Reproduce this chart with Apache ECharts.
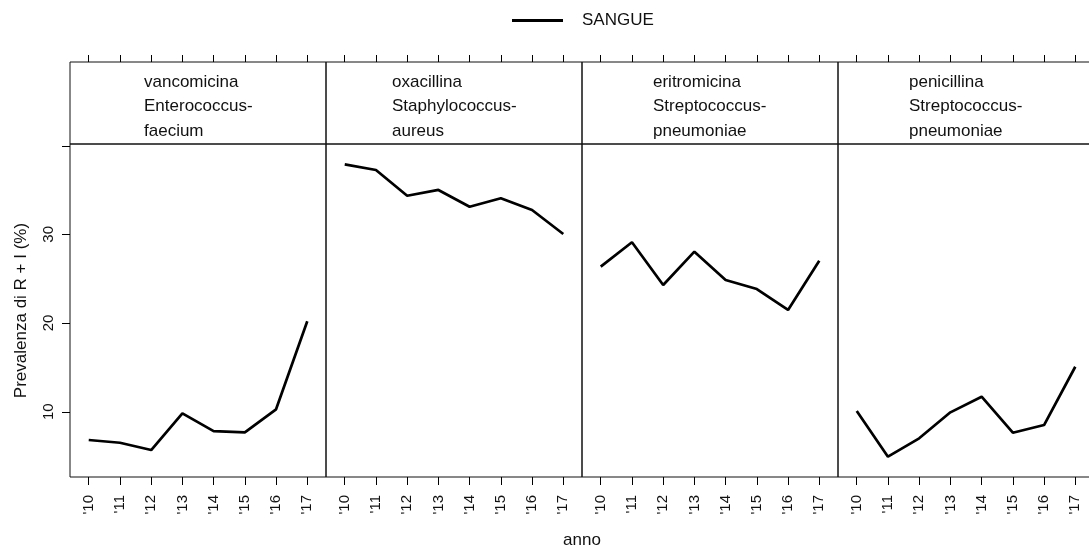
<!DOCTYPE html>
<html>
<head>
<meta charset="utf-8">
<script src="https://cdn.jsdelivr.net/npm/echarts@6/dist/echarts.min.js"></script>
<style>
  html, body { margin: 0; padding: 0; background: #ffffff; }
  #chart { width: 1089px; height: 547px; }
</style>
</head>
<body>
<div id="chart"></div>
<script>
// Year tick labels along each panel's x axis
const years = ["'10", "'11", "'12", "'13", "'14", "'15", "'16", "'17"];

// Strip headers: antibiotic and organism
const panelTitles = [
  ['vancomicina', 'Enterococcus-', 'faecium'],
  ['oxacillina', 'Staphylococcus-', 'aureus'],
  ['eritromicina', 'Streptococcus-', 'pneumoniae'],
  ['penicillina', 'Streptococcus-', 'pneumoniae']
];

// Prevalence of R + I (%) in blood isolates, 2010-2017
const vancomicinaEfaecium = [6.81, 6.50, 5.68, 9.82, 7.82, 7.68, 10.27, 20.2];
const oxacillinaSaureus = [37.89, 37.25, 34.35, 35.0, 33.11, 34.06, 32.74, 30.03];
const eritromicinaSpneumoniae = [26.35, 29.1, 24.28, 28.04, 24.85, 23.83, 21.47, 27.02];
const penicillinaSpneumoniae = [10.08, 4.93, 7.0, 9.93, 11.69, 7.63, 8.5, 15.07];

// Y axis ticks and labelled values
const yTicks = [10, 20, 30, 40];
const yLabels = [10, 20, 30];

const seriesName = 'SANGUE';
const panelValues = [vancomicinaEfaecium, oxacillinaSaureus, eritromicinaSpneumoniae, penicillinaSpneumoniae];

// Layout
const FONT = '"Liberation Sans", Arial, sans-serif';
const panelLeft = 70, panelWidth = 256, plotTop = 144, plotHeight = 333;
const stripTop = 62, stripHeight = plotTop - stripTop;
const yMin = 2.64, yMax = 40.18;
const xMin = -0.6, xMax = 7.6;
const yTickLength = 8;
const xIdx = years.map((_, i) => i);

const measure = document.createElement('canvas').getContext('2d');
measure.font = '17px ' + FONT;

const grids = [], xAxes = [], yAxes = [], series = [], graphics = [];

panelValues.forEach((vals, p) => {
  const left = panelLeft + p * panelWidth;
  grids.push({
    left: left, top: plotTop, width: panelWidth, height: plotHeight,
    outerBoundsMode: 'none', containLabel: false,
    show: true, borderColor: '#111', borderWidth: 1, backgroundColor: 'transparent'
  });
  // bottom axis with year labels
  xAxes.push({
    type: 'value', gridIndex: p, position: 'bottom', min: xMin, max: xMax,
    axisLine: { show: false, onZero: false },
    splitLine: { show: false },
    axisTick: { show: true, inside: false, length: 8, customValues: xIdx, lineStyle: { color: '#000', width: 1 } },
    axisLabel: {
      show: true, customValues: xIdx, rotate: 90, margin: 18,
      fontFamily: FONT, fontSize: 15, color: '#111',
      formatter: v => years[Math.round(v)]
    }
  });
  // top ticks above the strip
  xAxes.push({
    type: 'value', gridIndex: p, position: 'top', offset: stripHeight, min: xMin, max: xMax,
    axisLine: { show: false, onZero: false },
    splitLine: { show: false },
    axisTick: { show: true, inside: false, length: 7, customValues: xIdx, lineStyle: { color: '#000', width: 1 } },
    axisLabel: { show: false }
  });
  // value axis: labels and title on the first panel only
  yAxes.push({
    type: 'value', gridIndex: p, position: 'left', min: yMin, max: yMax,
    show: p === 0,
    name: p === 0 ? 'Prevalenza di R + I (%)' : '',
    nameLocation: 'middle', nameGap: 40, nameRotate: 90,
    nameTextStyle: { fontFamily: FONT, fontSize: 17, color: '#111' },
    axisLine: { show: false, onZero: false },
    splitLine: { show: false },
    axisTick: { show: false },
    axisLabel: {
      show: true, customValues: yLabels, rotate: 90, margin: 14,
      fontFamily: FONT, fontSize: 15, color: '#111'
    }
  });
  series.push({
    name: seriesName, type: 'line', xAxisIndex: 2 * p, yAxisIndex: p,
    data: vals.map((v, i) => [xIdx[i], v]),
    symbol: 'none', smooth: false, silent: true, animation: false,
    lineStyle: { color: '#000', width: 2.7 },
    itemStyle: { color: '#000' }
  });
  // strip box and its header text (lines left-aligned, block centred)
  graphics.push({
    type: 'rect', silent: true,
    shape: { x: left, y: stripTop, width: panelWidth, height: stripHeight },
    style: { fill: 'none', stroke: '#111', lineWidth: 1 }
  });
  const lines = panelTitles[p];
  const w = Math.max(...lines.map(s => measure.measureText(s).width));
  graphics.push({
    type: 'text', silent: true,
    x: Math.round(left + panelWidth / 2 - w / 2), y: stripTop + stripHeight / 2 + 3.5,
    style: {
      text: lines.join('\n'), fontFamily: FONT, fontSize: 17, fill: '#111',
      lineHeight: 24.5, align: 'left', verticalAlign: 'middle'
    }
  });
});

// x axis title centred under the panels
graphics.push({
  type: 'text', silent: true,
  x: panelLeft + 2 * panelWidth, y: 540,
  style: { text: 'anno', fontFamily: FONT, fontSize: 17, fill: '#111', align: 'center', verticalAlign: 'middle' }
});

const option = {
  animation: false,
  backgroundColor: '#ffffff',
  legend: {
    data: [{ name: seriesName, icon: 'rect' }], left: 507, top: 7,
    itemWidth: 51, itemHeight: 3,
    itemStyle: { color: '#000', borderWidth: 0 },
    textStyle: { fontFamily: FONT, fontSize: 17, color: '#111', padding: [0, 0, 0, 14] }
  },
  grid: grids,
  xAxis: xAxes,
  yAxis: yAxes,
  series: series,
  graphic: graphics
};

const chart = echarts.init(document.getElementById('chart'), null, { renderer: 'canvas' });
chart.setOption(option);

// left-edge tick marks of the first panel, positioned through its axes
const axisX = chart.convertToPixel({ xAxisIndex: 0 }, xMin);
yTicks.forEach(v => {
  const y = Math.round(chart.convertToPixel({ yAxisIndex: 0 }, v)) + 0.5;
  graphics.push({
    type: 'line', silent: true, z: 100,
    shape: { x1: axisX - yTickLength, y1: y, x2: axisX, y2: y },
    style: { stroke: '#000', lineWidth: 1 }
  });
});
chart.setOption({ graphic: graphics });
</script>
</body>
</html>
